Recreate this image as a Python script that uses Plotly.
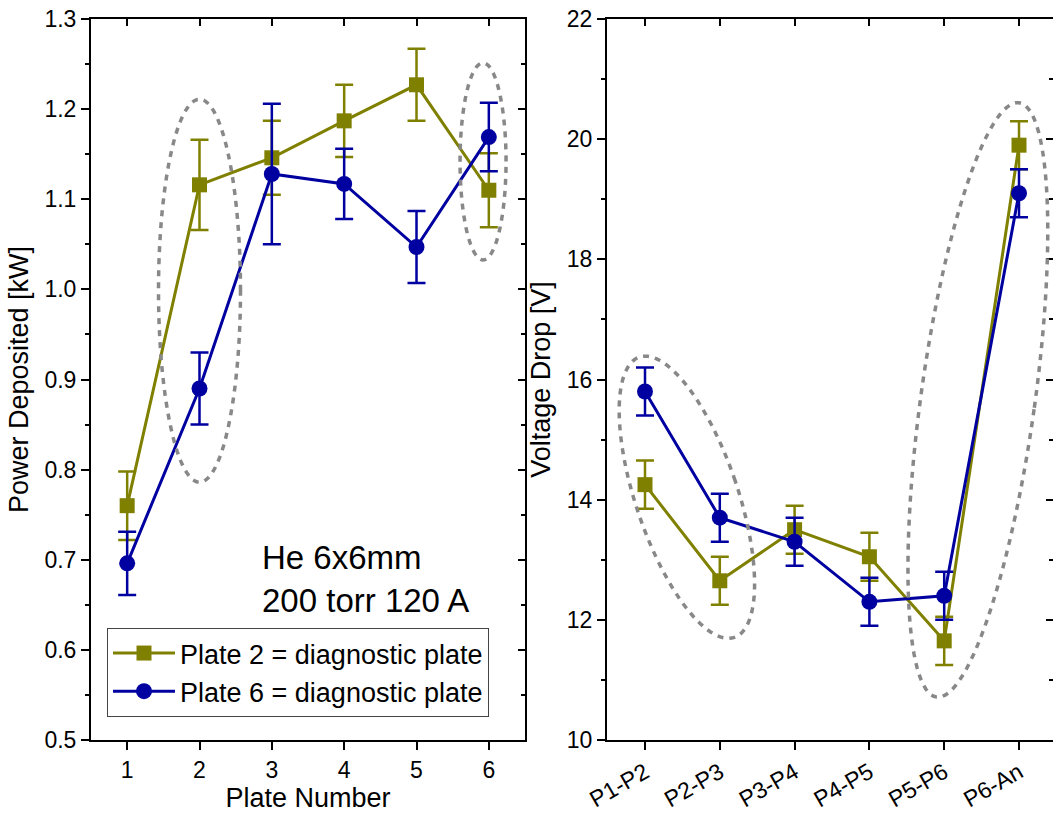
import numpy as np
import plotly.graph_objects as go

# ---------------- data ----------------
plate_numbers = [1, 2, 3, 4, 5, 6]
power_p2 = [0.760, 1.116, 1.146, 1.187, 1.227, 1.110]
power_p2_err = [0.038, 0.050, 0.041, 0.040, 0.040, 0.041]
power_p6 = [0.696, 0.890, 1.128, 1.117, 1.047, 1.169]
power_p6_err = [0.035, 0.040, 0.078, 0.039, 0.040, 0.038]

gaps = ["P1-P2", "P2-P3", "P3-P4", "P4-P5", "P5-P6", "P6-An"]
volt_p2 = [14.25, 12.65, 13.50, 13.05, 11.65, 19.90]
volt_p2_err = [0.40, 0.40, 0.40, 0.40, 0.40, 0.40]
volt_p6 = [15.80, 13.70, 13.30, 12.30, 12.40, 19.10]
volt_p6_err = [0.40, 0.40, 0.40, 0.40, 0.40, 0.40]

series_names = ["Plate 2 = diagnostic plate", "Plate 6 = diagnostic plate"]
left_yticks = [0.5, 0.6, 0.7, 0.8, 0.9, 1.0, 1.1, 1.2, 1.3]
right_yticks = [10, 12, 14, 16, 18, 20, 22]

# ---------------- style ----------------
OLIVE = "#808000"
BLUE = "#0000A0"
GRAY = "#888888"
FONT = "Liberation Sans, Arial, sans-serif"
W, H = 1053, 813
L_X0, L_X1 = 91, 525
R_X0, R_X1 = 607, 1053
TOP, BOT = 19, 740

gap_idx = list(range(len(gaps)))
r_xrange = [-0.508, -0.508 + (R_X1 - R_X0) / 74.8]

fig = go.Figure()


def add_series(x, y, err, color, symbol, size, name, xa, ya, showlegend):
    fig.add_trace(go.Scatter(
        x=x, y=y, mode="lines+markers", name=name,
        line=dict(color=color, width=3),
        marker=dict(symbol=symbol, size=size, color=color, line=dict(width=0)),
        error_y=dict(type="data", array=err, visible=True, color=color,
                     thickness=2.5, width=9),
        xaxis=xa, yaxis=ya, showlegend=showlegend,
    ))


add_series(plate_numbers, power_p2, power_p2_err, OLIVE, "square", 15, series_names[0], "x", "y", True)
add_series(plate_numbers, power_p6, power_p6_err, BLUE, "circle", 16, series_names[1], "x", "y", True)
add_series(gap_idx, volt_p2, volt_p2_err, OLIVE, "square", 15, series_names[0], "x2", "y2", False)
add_series(gap_idx, volt_p6, volt_p6_err, BLUE, "circle", 16, series_names[1], "x2", "y2", False)

# dummy traces so that mirror axes are drawn
for xa, ya in [("x3", "y"), ("x", "y3"), ("x4", "y2"), ("x2", "y4")]:
    fig.add_trace(go.Scatter(x=[None], y=[None], xaxis=xa, yaxis=ya,
                             showlegend=False, hoverinfo="skip"))

# ---------------- ellipses (center in data, semi-axes in px, tilt) ----------------
sx_l = (L_X1 - L_X0) / 6.0
sy_l = (BOT - TOP) / 0.8
sx_r = 74.8
sy_r = (BOT - TOP) / 12.0
ellipse_specs = [
    ("x", "y", 2.0, 0.9985, 191.5, 41, 0.0, sx_l, sy_l),
    ("x", "y", 5.92, 1.142, 98.5, 23, 0.0, sx_l, sy_l),
    ("x2", "y2", 0.56, 14.04, 148, 51, -18.7, sx_r, sy_r),
    ("x2", "y2", 4.45, 15.66, 300, 57, 7.9, sx_r, sy_r),
]
t = np.linspace(0, 2 * np.pi, 121)
for xr, yr, cx, cy, a, b, phi, sx, sy in ellipse_specs:
    p = np.radians(phi)
    u = b * np.cos(t)
    v = a * np.sin(t)
    dx = u * np.cos(p) + v * np.sin(p)
    dy = -u * np.sin(p) + v * np.cos(p)
    xs = cx + dx / sx
    ys = cy + dy / sy
    path = "M " + " L ".join(f"{x:.5f},{y:.5f}" for x, y in zip(xs, ys)) + " Z"
    fig.add_shape(type="path", path=path, xref=xr, yref=yr,
                  line=dict(color=GRAY, width=3.5, dash="6px,6px"))

# ---------------- axes ----------------
tickfont = dict(family=FONT, size=23, color="black")
titlefont = dict(family=FONT, size=27, color="black")
common = dict(showgrid=False, zeroline=False, linecolor="black", linewidth=2,
              tickcolor="black", tickwidth=2, tickfont=tickfont, automargin=False)

ldom = [L_X0 / W, L_X1 / W]
rdom = [R_X0 / W, R_X1 / W]

fig.update_layout(
    xaxis=dict(domain=ldom, range=[0.5, 6.5], anchor="y", tickvals=plate_numbers,
               ticks="outside", ticklen=8, showline=True,
               title=dict(text="Plate Number", font=titlefont, standoff=4), **common),
    yaxis=dict(domain=[0, 1], range=[0.5, 1.3], anchor="x", tickvals=left_yticks,
               tickformat=".1f", ticks="outside", ticklen=8, showline=True,
               minor=dict(ticks="outside", ticklen=4, dtick=0.05, tickwidth=2, tickcolor="black"),
               title=dict(text="Power Deposited [kW]", font=titlefont, standoff=8), **common),
    xaxis3=dict(overlaying="x", side="top", anchor="y", range=[0.5, 6.5], tickvals=plate_numbers,
                ticks="inside", ticklen=7, showline=True, showticklabels=False, **common),
    yaxis3=dict(overlaying="y", side="right", anchor="x", range=[0.5, 1.3], tickvals=left_yticks,
                ticks="inside", ticklen=7, showline=True, showticklabels=False,
                minor=dict(ticks="inside", ticklen=4, dtick=0.05, tickwidth=2, tickcolor="black"),
                **common),
    xaxis2=dict(domain=rdom, range=r_xrange, anchor="y2", tickvals=gap_idx, ticktext=gaps,
                tickangle=-30, ticks="outside", ticklen=8, showline=True, **common),
    yaxis2=dict(domain=[0, 1], range=[10, 22], anchor="x2", tickvals=right_yticks,
                ticks="outside", ticklen=8, showline=True,
                minor=dict(ticks="outside", ticklen=4, dtick=1, tickwidth=2, tickcolor="black"),
                title=dict(text="Voltage Drop [V]", font=titlefont, standoff=8), **common),
    xaxis4=dict(overlaying="x2", side="top", anchor="y2", range=r_xrange, tickvals=gap_idx,
                ticks="inside", ticklen=7, showline=True, showticklabels=False, **common),
    yaxis4=dict(overlaying="y2", side="right", anchor="x2", range=[10, 22], tickvals=right_yticks,
                ticks="inside", ticklen=7, showline=False, showticklabels=False,
                minor=dict(ticks="inside", ticklen=4, dtick=1, tickwidth=2, tickcolor="black"),
                **common),
)

fig.add_annotation(
    xref="paper", yref="paper", x=260 / W, y=(BOT - 579) / (BOT - TOP),
    xanchor="left", yanchor="middle", align="left", showarrow=False,
    text="He 6x6mm<br>200 torr 120 A",
    font=dict(family=FONT, size=33, color="black"),
)

fig.update_layout(
    width=W, height=H,
    margin=dict(l=0, r=0, t=TOP, b=H - BOT),
    paper_bgcolor="white", plot_bgcolor="white",
    font=dict(family=FONT, color="black"),
    legend=dict(x=107 / W, y=(BOT - 628) / (BOT - TOP), xanchor="left", yanchor="top",
                bgcolor="white", bordercolor="#444444", borderwidth=1,
                font=dict(family=FONT, size=27, color="black"),
                tracegroupgap=0, itemwidth=62),
)

fig.write_html("out.html", config={"displayModeBar": False},
               post_script="document.body.style.margin='0';document.body.style.overflow='hidden';")
